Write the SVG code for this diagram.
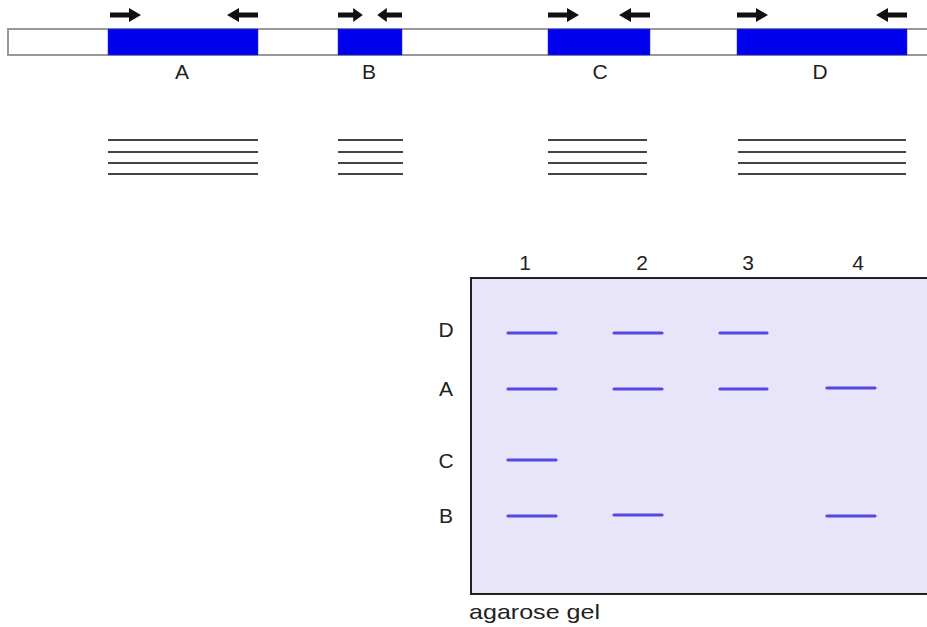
<svg xmlns="http://www.w3.org/2000/svg" width="927" height="627" viewBox="0 0 927 627">
<defs>
<style>
.lbl{font-family:"Liberation Sans",Arial,sans-serif;font-size:21px;fill:#222;text-anchor:middle}
.seg{fill:#0000ee;stroke:#3333cc;stroke-width:0.5}
.pl{stroke:#444;stroke-width:2.2}
.band{stroke:#5548dd;stroke-width:3.2;stroke-linecap:round}
.arr{fill:#111}
</style>
<symbol id="ra" overflow="visible"><path class="arr" d="M0,-2.5 L19,-2.5 L19,-7 L31,0 L19,7 L19,2.5 L0,2.5 Z"/></symbol>
<symbol id="la" overflow="visible"><path class="arr" d="M0,-2.5 L-19,-2.5 L-19,-7 L-31,0 L-19,7 L-19,2.5 L0,2.5 Z"/></symbol>
</defs>
<rect width="927" height="627" fill="#fff"/>
<g id="dna">
<path d="M940,29 L8,29 L8,55 L940,55" fill="#fff" stroke="#999" stroke-width="2"/>
</g>
<g id="segA"><rect class="seg" x="108" y="29" width="150" height="26"/><use href="#ra" x="110" y="15"/><use href="#la" x="258" y="15"/><text class="lbl" x="182" y="79">A</text></g>
<g id="segB"><rect class="seg" x="338" y="29" width="64" height="26"/><use href="#ra" x="338" y="15" transform="translate(338 15) scale(0.8 1) translate(-338 -15)"/><use href="#la" x="402" y="15" transform="translate(402 15) scale(0.8 1) translate(-402 -15)"/><text class="lbl" x="369" y="79">B</text></g>
<g id="segC"><rect class="seg" x="548" y="29" width="102" height="26"/><use href="#ra" x="548" y="15"/><use href="#la" x="650" y="15"/><text class="lbl" x="600" y="79">C</text></g>
<g id="segD"><rect class="seg" x="737" y="29" width="170" height="26"/><use href="#ra" x="737" y="15"/><use href="#la" x="907" y="15"/><text class="lbl" x="820" y="79">D</text></g>
<g id="products">
<path class="pl" d="M108,140H258M108,152H258M108,163H258M108,174H258"/>
<path class="pl" d="M338,140H403M338,152H403M338,163H403M338,174H403"/>
<path class="pl" d="M548,140H647M548,152H647M548,163H647M548,174H647"/>
<path class="pl" d="M738,140H906M738,152H906M738,163H906M738,174H906"/>
</g>
<g id="gel">
<path d="M940,278 L471,278 L471,594 L940,594 Z" fill="#e8e5fb" stroke="#222" stroke-width="2"/>
<text class="lbl" x="525" y="270">1</text>
<text class="lbl" x="642" y="270">2</text>
<text class="lbl" x="748" y="270">3</text>
<text class="lbl" x="858" y="270">4</text>
<text class="lbl" x="446" y="337">D</text>
<text class="lbl" x="446" y="396">A</text>
<text class="lbl" x="446" y="468">C</text>
<text class="lbl" x="446" y="523">B</text>
<text class="lbl" x="469" y="619" style="text-anchor:start" textLength="131" lengthAdjust="spacingAndGlyphs">agarose gel</text>
</g>
<g id="bands">
<path class="band" d="M508,333H556M614,333H662M720,333H767"/>
<path class="band" d="M508,389H556M614,389H662M720,389H767M827,388H875"/>
<path class="band" d="M508,460H556"/>
<path class="band" d="M508,516H556M614,515H662M827,516H875"/>
</g>
</svg>
